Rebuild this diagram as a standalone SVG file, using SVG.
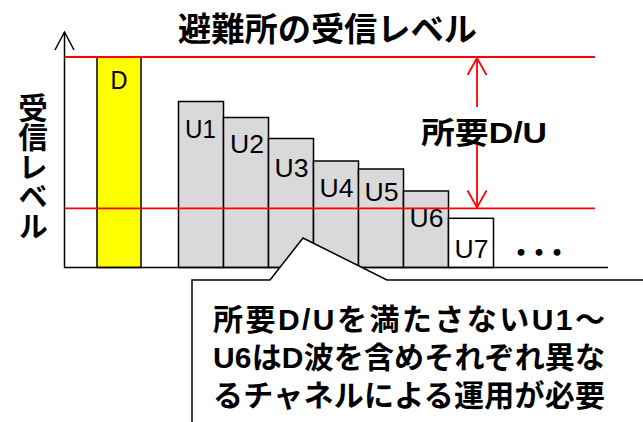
<svg xmlns="http://www.w3.org/2000/svg" width="643" height="422" viewBox="0 0 643 422">
<defs>
<style>
.t{font-family:"Noto Sans CJK JP","Liberation Sans",sans-serif;font-weight:bold;fill:#000}
.c{font-family:"Liberation Sans","Noto Sans CJK JP",sans-serif;font-weight:bold;fill:#000}
.lbl{font-family:"Liberation Sans",Arial,sans-serif;font-size:26px;fill:#000;text-anchor:middle}
.bar{fill:#d9d9d9;stroke:#000;stroke-width:1.5}
.red{stroke:#ff0000;stroke-width:1.8;fill:none}
.ax{stroke:#000;stroke-width:1.5;fill:none}
</style>
<marker id="ahk" markerUnits="userSpaceOnUse" markerWidth="40" markerHeight="40" refX="0" refY="0" orient="auto" overflow="visible"><path d="M-18,-9.5 L0,0 L-18,9.5" fill="none" stroke="#000" stroke-width="1.5"/></marker>
<marker id="ahr" markerUnits="userSpaceOnUse" markerWidth="40" markerHeight="40" refX="0" refY="0" orient="auto" overflow="visible"><path d="M-17,-9.5 L0,0 L-17,9.5" fill="none" stroke="#ff0000" stroke-width="1.8"/></marker>
</defs>
<rect width="643" height="422" fill="#fff"/>

<g id="title"><text class="t" x="327.5" y="27" font-size="33" text-anchor="middle" dominant-baseline="central" textLength="299" lengthAdjust="spacingAndGlyphs">避難所の受信レベル</text></g>

<g id="ylabel"><text class="t" x="33" y="93" font-size="29.5" writing-mode="vertical-rl" style="writing-mode:vertical-rl">受信レベル</text></g>

<g id="bar-D"><rect x="97" y="57" width="44" height="210.5" fill="#ffff00" stroke="#000" stroke-width="1.5"/><text class="lbl" x="119" y="89" textLength="17" lengthAdjust="spacingAndGlyphs">D</text></g>
<g id="bar-U1"><rect class="bar" x="178.5" y="101.5" width="45" height="166"/><text class="lbl" x="200.5" y="137.5" textLength="31" lengthAdjust="spacingAndGlyphs">U1</text></g>
<g id="bar-U2"><rect class="bar" x="223.5" y="117.5" width="45" height="150"/><text class="lbl" x="247" y="153.3" textLength="34" lengthAdjust="spacingAndGlyphs">U2</text></g>
<g id="bar-U3"><rect class="bar" x="268.5" y="138.5" width="45" height="129"/><text class="lbl" x="291.5" y="176.7" textLength="34" lengthAdjust="spacingAndGlyphs">U3</text></g>
<g id="bar-U4"><rect class="bar" x="313.5" y="161" width="45" height="106.5"/><text class="lbl" x="336.5" y="196.7" textLength="34" lengthAdjust="spacingAndGlyphs">U4</text></g>
<g id="bar-U5"><rect class="bar" x="358.5" y="169" width="45" height="98.5"/><text class="lbl" x="381.5" y="201" textLength="34" lengthAdjust="spacingAndGlyphs">U5</text></g>
<g id="bar-U6"><rect class="bar" x="403.5" y="191" width="45" height="76.5"/><text class="lbl" x="426.5" y="226.7" textLength="34" lengthAdjust="spacingAndGlyphs">U6</text></g>
<g id="bar-U7"><rect x="448.5" y="218.3" width="45" height="49.2" fill="#fff" stroke="#000" stroke-width="1.5"/><text class="lbl" x="471.5" y="258" textLength="34" lengthAdjust="spacingAndGlyphs">U7</text></g>
<g id="more"><text class="t" x="512" y="251" font-size="18" dominant-baseline="central" stroke="#000" stroke-width="2.2">・・・</text></g>

<g id="axes">
<line class="ax" x1="64.5" y1="267.5" x2="64.5" y2="32" marker-end="url(#ahk)"/>
<line class="ax" x1="64" y1="267.5" x2="608" y2="267.5"/>
</g>

<g id="levels">
<line class="red" x1="65" y1="57" x2="595" y2="57"/>
<line class="red" x1="65" y1="208.3" x2="595" y2="208.3"/>
</g>

<g id="connectors">
<line class="red" x1="477" y1="107" x2="477" y2="58" marker-end="url(#ahr)"/>
<line class="red" x1="477" y1="145" x2="477" y2="207.5" marker-end="url(#ahr)"/>
</g>

<g id="du-label"><text class="c" x="421" y="132" font-size="30" dominant-baseline="central" textLength="126" lengthAdjust="spacingAndGlyphs">所要D/U</text></g>

<g id="callout">
<path d="M192,430 L192,280 L270,280 L303,238 L387,280 L650,280 L650,430 Z" fill="#fff" stroke="#000" stroke-width="1.5"/>
<g class="c" font-size="30">
<text x="213" y="330" textLength="392" lengthAdjust="spacing">所要D/Uを満たさないU1～</text>
<text x="213" y="368" textLength="392" lengthAdjust="spacing">U6はD波を含めそれぞれ異な</text>
<text x="213" y="406" textLength="392" lengthAdjust="spacing">るチャネルによる運用が必要</text>
</g>
</g>
</svg>
